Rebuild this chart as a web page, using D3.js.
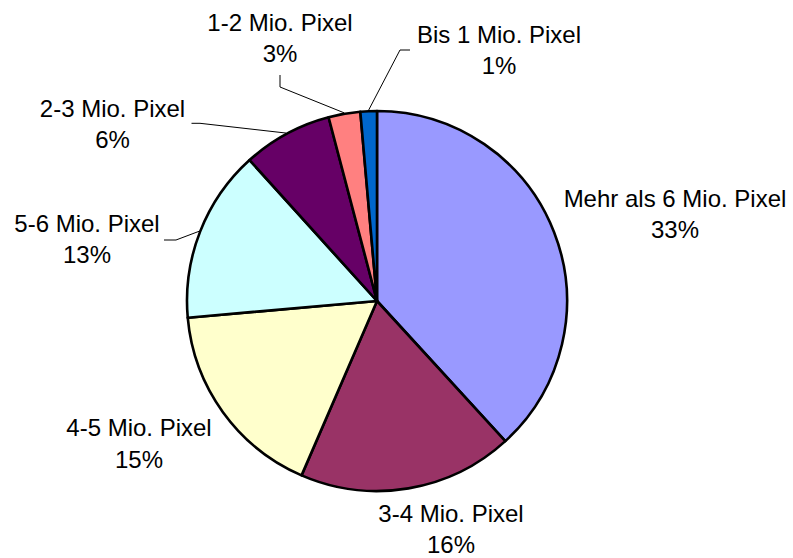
<!DOCTYPE html>
<html>
<head>
<meta charset="utf-8">
<script src="https://cdn.jsdelivr.net/npm/d3@7/dist/d3.min.js"></script>
<style>
  html, body { margin: 0; padding: 0; background: #ffffff; }
  svg { display: block; }
  text { font-family: "Liberation Sans", Arial, sans-serif; fill: #000; }
</style>
</head>
<body>
<svg id="chart" width="793" height="558"></svg>
<script>
// ---- data ----
const categories = ["Mehr als 6 Mio. Pixel", "3-4 Mio. Pixel", "4-5 Mio. Pixel", "5-6 Mio. Pixel", "2-3 Mio. Pixel", "1-2 Mio. Pixel", "Bis 1 Mio. Pixel"];
const values = [38.2, 18.3, 17.1, 14.7, 7.6, 2.7, 1.4];
const percentLabels = ["33%", "16%", "15%", "13%", "6%", "3%", "1%"];
const colors = ["#9999FF", "#993366", "#FFFFCC", "#CCFFFF", "#660066", "#FF8080", "#0066CC"];

// ---- layout (label anchor positions: centre x, first baseline y) ----
const labelPos = [[675, 206.5], [451, 521.5], [139, 436], [87, 231.5], [112.5, 116.5], [280, 30.5], [499, 42.5]];
// leader elbow points (null = no leader)
const leaderElbows = [null, null, null, [[164, 240], [176, 240]], [[191.5, 123.3], [200, 123.3]], [[280, 75], [280, 87]], [[410, 50], [400, 50]]];

const W = 793, H = 558;
const cx = 377, cy = 301, R = 190;
const fontSize = 24, lineGap = 31.5;

const svg = d3.select("#chart");
const g = svg.append("g").attr("transform", `translate(${cx},${cy})`);

const pie = d3.pie().sort(null).value(d => d.v).startAngle(0).endAngle(2 * Math.PI);
const arcs = pie(categories.map((c, i) => ({ c, v: values[i], p: percentLabels[i], col: colors[i], i })));
const arc = d3.arc().innerRadius(0).outerRadius(R);

g.selectAll("path.slice").data(arcs).enter().append("path")
  .attr("class", "slice")
  .attr("d", arc)
  .attr("fill", d => d.data.col)
  .attr("stroke", "#000")
  .attr("stroke-width", 2.6)
  .attr("stroke-linejoin", "round");

// leader lines
arcs.forEach((d, i) => {
  const el = leaderElbows[i];
  if (!el) return;
  const mid = (d.startAngle + d.endAngle) / 2;
  const ex = cx + (R + 1) * Math.sin(mid), ey = cy - (R + 1) * Math.cos(mid);
  const pts = el.concat([[ex, ey]]);
  svg.append("path")
    .attr("d", d3.line()(pts))
    .attr("fill", "none")
    .attr("stroke", "#000")
    .attr("stroke-width", 1);
});

// labels
arcs.forEach((d, i) => {
  const [x, y] = labelPos[i];
  const t = svg.append("text")
    .attr("text-anchor", "middle")
    .attr("font-size", fontSize);
  t.append("tspan").attr("x", x).attr("y", y).text(d.data.c);
  t.append("tspan").attr("x", x).attr("y", y + lineGap).text(d.data.p);
});
</script>
</body>
</html>
